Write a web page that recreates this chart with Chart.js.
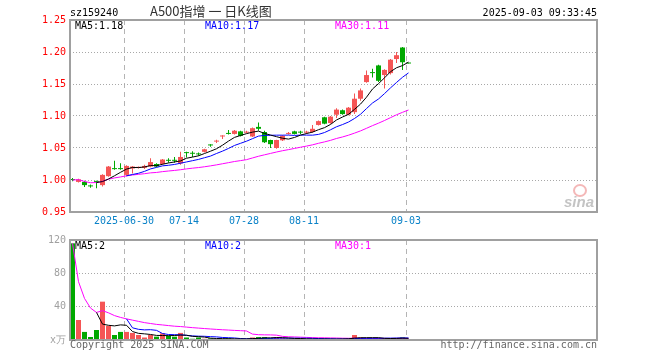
<!DOCTYPE html>
<html>
<head>
<meta charset="utf-8">
<script src="https://cdn.jsdelivr.net/npm/chart.js@4.4.1/dist/chart.umd.min.js"></script>
<style>
  body { margin: 0; width: 660px; height: 360px; overflow: hidden; position: relative; background: #fff;
         font-family: "DejaVu Sans Mono", monospace; font-size: 10px; }
  canvas { position: absolute; left: 0; }
  .t { position: absolute; white-space: nowrap; line-height: 12px; }
</style>
</head>
<body>
<canvas id="priceChart" width="660" height="232" style="top:0"></canvas>
<canvas id="volChart" width="660" height="120" style="top:230px"></canvas>

<div class="t" style="left:70px;top:7px;color:#000">sz159240</div>
<div class="t" style="left:150px;top:3px;line-height:16px;font-family:'Noto Sans CJK SC',sans-serif;font-size:13px;color:#333">A500指增 一 日K线图</div>
<div class="t" style="right:63px;top:7px;color:#000">2025-09-03 09:33:45</div>

<div class="t" style="left:75px;top:20px;color:#000">MA5:1.18</div>
<div class="t" style="left:205px;top:20px;color:#0000ff">MA10:1.17</div>
<div class="t" style="left:335px;top:20px;color:#ff00ff">MA30:1.11</div>

<div class="t" style="left:75px;top:240px;color:#000">MA5:2</div>
<div class="t" style="left:205px;top:240px;color:#0000ff">MA10:2</div>
<div class="t" style="left:335px;top:240px;color:#ff00ff">MA30:1</div>

<div class="t" style="left:70px;top:339px;color:#666">Copyright 2025 SINA.COM</div>
<div class="t" style="right:63px;top:339px;color:#666">http://finance.sina.com.cn</div>

<div style="position:absolute;left:573px;top:184px;width:10px;height:9px;border:2px solid #f4b8b8;border-radius:50%"></div>
<div class="t" style="left:564px;top:193px;font:italic bold 15px 'Liberation Sans',sans-serif;color:#c4c4c4">sina</div>

<script>
// trading days, 2025-06-17 .. 2025-09-03
var dates = ['06-17','06-18','06-19','06-20','06-23','06-24','06-25','06-26','06-27','06-30',
  '07-01','07-02','07-03','07-04','07-07','07-08','07-09','07-10','07-11','07-14',
  '07-15','07-16','07-17','07-18','07-21','07-22','07-23','07-24','07-25','07-28',
  '07-29','07-30','07-31','08-01','08-04','08-05','08-06','08-07','08-08','08-11',
  '08-12','08-13','08-14','08-15','08-18','08-19','08-20','08-21','08-22','08-25',
  '08-26','08-27','08-28','08-29','09-01','09-02','09-03'];

var openP = [1.001,0.997,0.997,0.991,0.998,0.992,1.006,1.018,1.018,1.008,
  1.018,1.019,1.019,1.021,1.025,1.025,1.031,1.031,1.026,1.043,
  1.042,1.041,1.044,1.055,1.060,1.068,1.073,1.072,1.076,1.074,
  1.068,1.083,1.075,1.0625,1.050,1.062,1.072,1.076,1.075,1.074,
  1.075,1.086,1.098,1.089,1.102,1.109,1.102,1.106,1.127,1.153,
  1.168,1.179,1.164,1.167,1.189,1.207,1.183];
var highP = [1.003,1.002,0.999,0.993,0.999,1.009,1.022,1.030,1.026,1.023,
  1.022,1.021,1.024,1.034,1.026,1.033,1.034,1.036,1.044,1.044,
  1.045,1.043,1.049,1.056,1.063,1.070,1.078,1.078,1.077,1.077,
  1.082,1.090,1.077,1.063,1.063,1.070,1.075,1.077,1.077,1.077,
  1.086,1.093,1.099,1.100,1.112,1.110,1.114,1.135,1.143,1.171,
  1.174,1.180,1.173,1.189,1.200,1.208,1.183];
var lowP = [0.998,0.996,0.989,0.988,0.987,0.990,1.005,1.016,1.016,1.006,
  1.010,1.018,1.017,1.020,1.020,1.024,1.027,1.027,1.024,1.035,
  1.036,1.038,1.043,1.052,1.058,1.064,1.071,1.071,1.068,1.073,
  1.067,1.077,1.058,1.050,1.049,1.061,1.071,1.071,1.072,1.072,
  1.074,1.085,1.087,1.088,1.097,1.102,1.101,1.103,1.124,1.152,
  1.160,1.153,1.143,1.165,1.183,1.172,1.182];
var closeP = [1.000,1.001,0.992,0.990,0.997,1.008,1.021,1.017,1.017,1.022,
  1.021,1.020,1.022,1.028,1.021,1.032,1.030,1.030,1.036,1.042,
  1.041,1.040,1.048,1.054,1.061,1.069,1.072,1.077,1.069,1.075,
  1.081,1.080,1.059,1.056,1.0625,1.069,1.073,1.072,1.074,1.075,
  1.080,1.092,1.088,1.099,1.110,1.103,1.113,1.127,1.140,1.164,
  1.167,1.155,1.172,1.188,1.195,1.184,1.182];
// volume, 万
var volume = [116,24,9.7,3.6,12,46,17,6,9.7,9.7,
  8.5,6,3,6,4,8,5,4,8.5,3,
  1.5,3,1.5,2,1,1,2,1,1.5,1,
  3,3.5,3.5,2,3,2,1.5,1,1.5,1,
  1,1,1.5,1,1,1.5,2,6,3,1.5,
  1.5,2,2,2,2,3,1];

var tickIndex = [9, 19, 29, 39, 56];
var tickText = ['2025-06-30', '07-14', '07-28', '08-11', '09-03'];
var priceTicks = [0.95, 1.00, 1.05, 1.10, 1.15, 1.20, 1.25];
var volTicks = [0, 40, 80, 120];

var UP = '#f55555', DOWN = '#00a800';
var MONO = {family: 'DejaVu Sans Mono', size: 10};
var SLOTS = 527 / 6;   // 6px per trading day
var SHIFT = 0.417;     // bar centre inside its slot

function xOf(i) { return i + SHIFT; }

function movingAvg(src, n, partial) {
  var out = [];
  for (var i = 0; i < src.length; i++) {
    if (i < n - 1 && !partial) continue;
    var from = Math.max(0, i - n + 1), s = 0;
    for (var k = from; k <= i; k++) s += src[k];
    out.push({x: xOf(i), y: s / (i - from + 1)});
  }
  return out;
}

var colors = closeP.map(function (c, i) { return c >= openP[i] ? UP : DOWN; });

var framePlugin = {
  id: 'frame',
  afterDraw: function (chart) {
    var a = chart.chartArea, ctx = chart.ctx;
    ctx.save();
    ctx.strokeStyle = '#a0a0a0';
    ctx.lineWidth = 2;
    ctx.strokeRect(a.left, a.top, a.right - a.left, a.bottom - a.top);
    ctx.restore();
  }
};

function lineSet(data, color) {
  return {type: 'line', data: data, borderColor: color, borderWidth: 1, pointRadius: 0,
          tension: 0, order: 0};
}

function xScale(showLabels, height) {
  return {
    type: 'linear', min: 0, max: SLOTS, offset: false,
    afterBuildTicks: function (s) { s.ticks = tickIndex.map(function (v) { return {value: v}; }); },
    afterFit: function (s) { s.height = height; },
    grid: {offset: false, drawTicks: false, color: '#b4b4b4', lineWidth: 1},
    border: {display: false, dash: [5, 4]},
    ticks: {display: showLabels, padding: 3, color: '#0a82c8', font: MONO, maxRotation: 0, autoSkip: false,
            callback: function (v, idx) { return tickText[idx]; }}
  };
}

function yScale(ticks, color, fmt) {
  var lo = ticks[0], hi = ticks[ticks.length - 1];
  return {
    min: lo, max: hi,
    afterBuildTicks: function (s) { s.ticks = ticks.map(function (v) { return {value: v}; }); },
    afterFit: function (s) { s.width = 70; },
    grid: {drawTicks: false, lineWidth: 1,
           color: function (c) { return (c.tick.value === lo || c.tick.value === hi) ? 'rgba(0,0,0,0)' : '#a8a8a8'; }},
    border: {display: false, dash: [1, 2]},
    ticks: {padding: 4, color: color, font: MONO, callback: fmt}
  };
}

var common = {
  responsive: false, animation: false, events: [],
  plugins: {legend: {display: false}, tooltip: {enabled: false}}
};

new Chart(document.getElementById('priceChart'), {
  type: 'bar',
  data: {
    datasets: [
      lineSet(movingAvg(closeP, 5, false), '#000000'),
      lineSet(movingAvg(closeP, 10, false), '#0000ff'),
      lineSet(movingAvg(closeP, 30, true), '#ff00ff'),
      {data: closeP.map(function (c, i) { return {x: xOf(i), y: [openP[i], c]}; }),
       backgroundColor: colors, barThickness: 5, minBarLength: 1, grouped: false, inflateAmount: 0, order: 1},
      {data: closeP.map(function (c, i) { return {x: xOf(i), y: [lowP[i], highP[i]]}; }),
       backgroundColor: colors, barThickness: 1, grouped: false, inflateAmount: 0, order: 2}
    ]
  },
  options: Object.assign({}, common, {
    layout: {padding: {top: 20, right: 63, left: 0, bottom: 0}},
    scales: {
      x: xScale(true, 20),
      y: yScale(priceTicks, '#ff0000', function (v) { return v.toFixed(2); })
    }
  }),
  plugins: [framePlugin]
});

new Chart(document.getElementById('volChart'), {
  type: 'bar',
  data: {
    datasets: [
      lineSet(movingAvg(volume, 5, false), '#000000'),
      lineSet(movingAvg(volume, 10, false), '#0000ff'),
      lineSet(movingAvg(volume, 30, true), '#ff00ff'),
      {data: volume.map(function (v, i) { return {x: xOf(i), y: v}; }),
       backgroundColor: colors, barThickness: 5, grouped: false, inflateAmount: 0, order: 1}
    ]
  },
  options: Object.assign({}, common, {
    layout: {padding: {top: 10, right: 63, left: 0, bottom: 0}},
    scales: {
      x: xScale(false, 10),
      y: yScale(volTicks, '#a0a0a0', function (v) { return v === 0 ? 'x万' : v; })
    }
  }),
  plugins: [framePlugin]
});
</script>
</body>
</html>
